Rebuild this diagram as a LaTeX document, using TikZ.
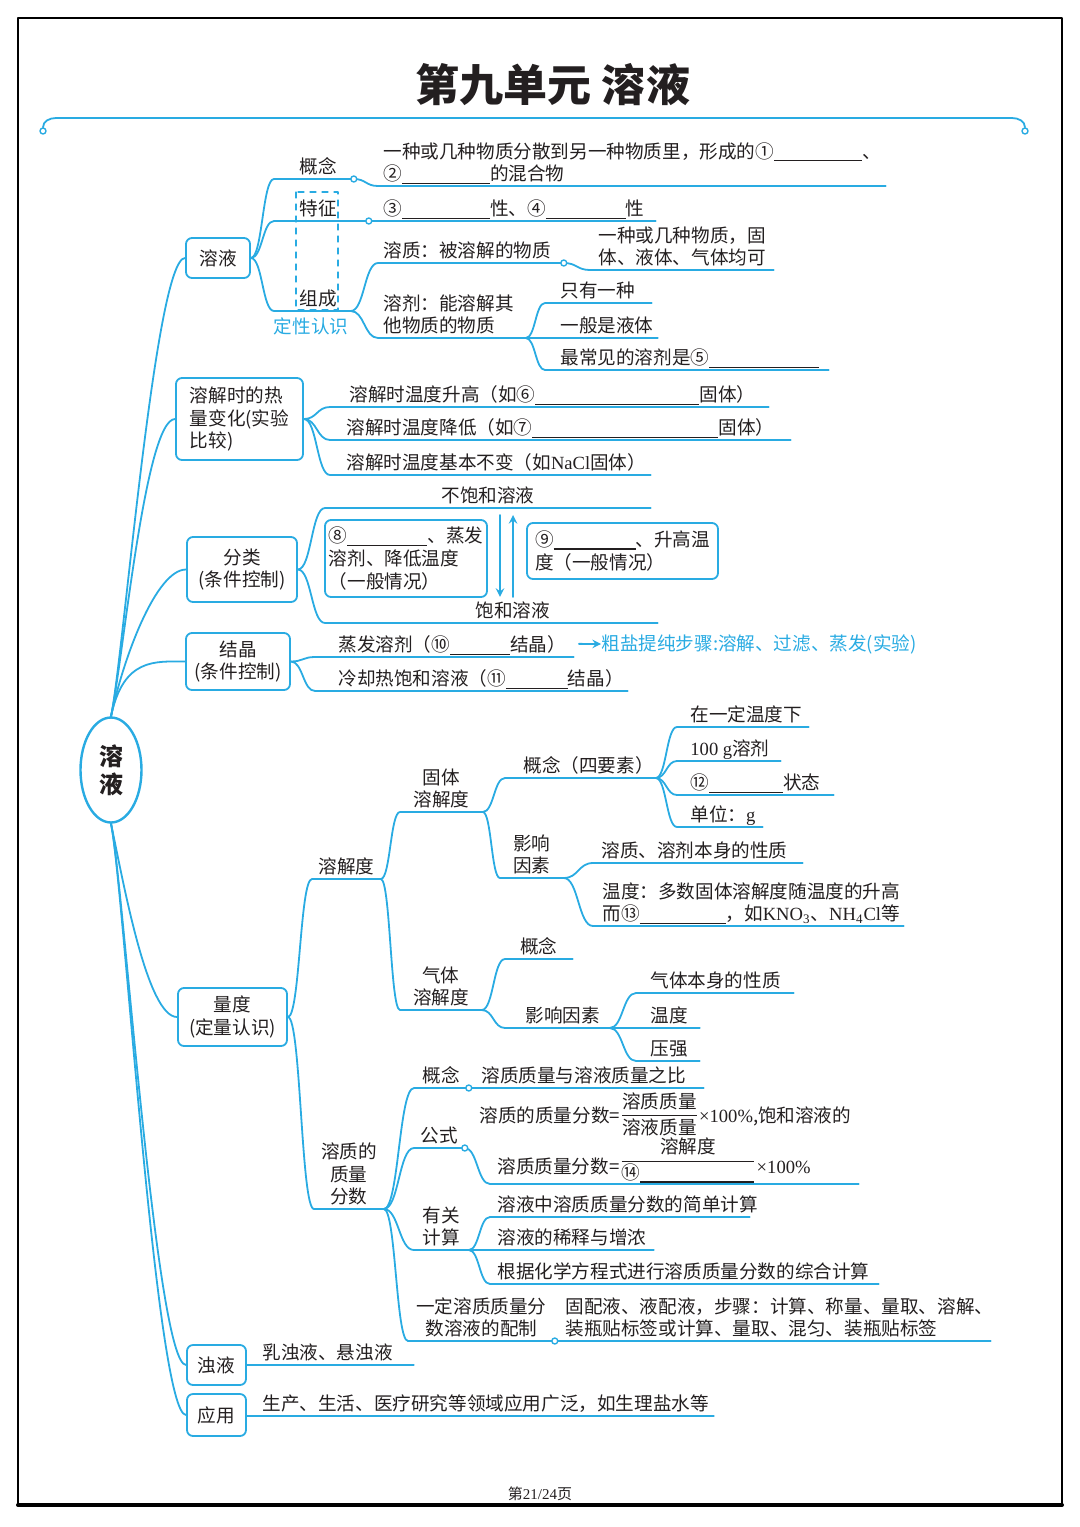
\documentclass[tikz,border=0pt]{standalone}
\usepackage{fontspec}
\setmainfont{Noto Sans CJK SC}
\newfontfamily\latf{Liberation Serif}
\newcommand\lat[1]{{\latf #1}}
\usetikzlibrary{calc,shapes.geometric}
\definecolor{lc}{HTML}{29ABE2}
\definecolor{ink}{HTML}{231F20}
\newcommand\blank[1]{\rule[-1.5pt]{#1}{0.6pt}}

\begin{document}
\begin{tikzpicture}[x=0.5pt, y=-0.5pt, line join=round, line cap=round, >=stealth,
	font=\fontsize{9.3pt}{11.3pt}\selectfont, text=ink,
	br/.style={draw=lc, line width=0.9pt},
	arr/.style={draw=lc, line width=0.9pt, ->},
	hs/.style={to path={let \p1=(\tikztostart), \p2=(\tikztotarget) in
		.. controls ({(\x1+\x2)/2},\y1) and ({(\x1+\x2)/2},\y2) .. (\tikztotarget)}},
	up/.style={out=78, in=180, out distance=30pt, in distance=15pt},
	dn/.style={out=-78, in=180, out distance=30pt, in distance=15pt},
	cbox/.style={draw=lc, line width=0.9pt, rounded corners=3pt, fill=white, align=center, inner sep=1pt},
	tx/.style={anchor=south west, inner xsep=0pt, inner ysep=2.4pt, text depth=0pt},
	leaf/.style={tx, execute at begin node={\begin{minipage}[b]{#1}\raggedright}, execute at end node={\end{minipage}}},
	mid/.style={tx, execute at begin node={\begin{minipage}[b]{#1}\centering}, execute at end node={\end{minipage}}},
	knob/.style={circle, draw=lc, fill=white, line width=0.7pt, inner sep=0pt, minimum size=3pt}]
	\useasboundingbox (0,0) rectangle (1080,1527);
	\draw[line width=1.2pt] (18,18) rectangle (1062,1505);
	\draw[line width=2pt] (18,1505) -- (1062,1505);
	\node[font=\fontsize{22pt}{26pt}\selectfont\bfseries] (title) at (553,85) {第九单元 溶液};
	\node[knob] (lk) at (43,131) {};
	\node[knob] (rk) at (1025,131) {};
	\draw[br] (lk) to[out=90,in=180] (56,118) -- (1012,118) to[out=0,in=90] (rk);
	\node[font=\fontsize{7.5pt}{9pt}\selectfont] (pg) at (540,1494) {第\lat{21/24}页};
	
	% root and main boxes
	\node[draw=lc, line width=1.2pt, ellipse, minimum width=30.5pt, minimum height=52.5pt, fill=white,
		font=\fontsize{12pt}{14pt}\selectfont\bfseries, align=center] (root) at (111,770) {溶\\液};
	\node[cbox, minimum width=32pt, minimum height=20pt] (b1) at (218,258) {溶液};
	\node[cbox, minimum width=63.5pt, minimum height=41pt, align=left] (b2) at (239.5,419) {溶解时的热\\量变化(实验\\比较)};
	\node[cbox, minimum width=55pt, minimum height=32.5pt] (b3) at (242,569.5) {分类\\(条件控制)};
	\node[cbox, minimum width=52pt, minimum height=28.5pt] (b4) at (238,661.5) {结晶\\(条件控制)};
	\node[cbox, minimum width=54.5pt, minimum height=29pt] (b5) at (232.5,1017) {量度\\(定量认识)};
	\node[cbox, minimum width=29.5pt, minimum height=20pt] (b6) at (216.5,1365) {浊液};
	\node[cbox, minimum width=29.5pt, minimum height=21pt] (b7) at (216.5,1415) {应用};
	\foreach \b in {b1,b2,b3,b4} \draw[br] (root.north) to[up] (\b.west);
	\foreach \b in {b5,b6,b7} \draw[br] (root.south) to[dn] (\b.west);
	
	% 溶液
	\node[leaf=39.5pt] (gn) at (274,179) {\hspace*{12.5pt}概念};
	\node[leaf=253.5pt] (gdef) at (378,186) {\hspace*{2.5pt}一种或几种物质分散到另一种物质里，形成的①\blank{44pt}、\\\hspace*{2.5pt}②\blank{44pt}的混合物};
	\node[leaf=47pt] (tz) at (274,221) {\hspace*{12.5pt}特征};
	\node[leaf=143.5pt] (tzdef) at (368,221) {\hspace*{7.5pt}③\blank{44pt}性、④\blank{40pt}性};
	\node[leaf=38pt] (zc) at (274,311) {\hspace*{12.5pt}组成};
	\node[leaf=92.5pt] (zz) at (378,263) {\hspace*{2.5pt}溶质：被溶解的物质};
	\node[leaf=91.5pt] (zzdef) at (590,270) {\hspace*{4pt}一种或几种物质，固\\\hspace*{4pt}体、液体、气体均可};
	\node[leaf=73.5pt] (zj) at (378,338) {\hspace*{2.5pt}溶剂：能溶解其\\\hspace*{2.5pt}他物质的物质};
	\node[leaf=53pt] (j1) at (545,303) {\hspace*{7.5pt}只有一种};
	\node[leaf=56pt] (j2) at (545,338) {\hspace*{7.5pt}一般是液体};
	\node[leaf=141.5pt] (j3) at (545,370) {\hspace*{7.5pt}最常见的溶剂是⑤\blank{55pt}};
	\node[text=lc] (dxrs) at (311,326) {定性认识};
	\draw[lc, dashed, line width=0.6pt] (296,192) rectangle (338,310);
	\draw[br] (b1.east) to[hs] (gn.south west) -- (gn.south east) to[hs] (gdef.south west) -- (gdef.south east);
	\draw[br] (b1.east) to[hs] (tz.south west) -- (tzdef.south east);
	\draw[br] (b1.east) to[hs] (zc.south west) -- (zc.south east) to[hs] (zz.south west) -- (zz.south east)
		to[hs] (zzdef.south west) -- (zzdef.south east);
	\draw[br] (zc.south east) to[hs] (zj.south west) -- (zj.south east) to[hs] (j1.south west) -- (j1.south east);
	\draw[br] (zj.south east) -- (j2.south east);
	\draw[br] (zj.south east) to[hs] (j3.south west) -- (j3.south east);
	\node[knob] (kgn) at (gn.south east) {};
	\node[knob] (ktz) at (tz.south east) {};
	\node[knob] (kzz) at (zz.south east) {};
	
	% 热量变化
	\node[leaf=219pt] (h1) at (330,407) {\hspace*{9.5pt}溶解时温度升高（如⑥\blank{82pt}固体）};
	\node[leaf=230pt] (h2) at (330,440) {\hspace*{8pt}溶解时温度降低（如⑦\blank{93pt}固体）};
	\node[leaf=160pt] (h3) at (330,475) {\hspace*{8pt}溶解时温度基本不变（如\lat{NaCl}固体）};
	\foreach \h in {h1,h2,h3} \draw[br] (b2.east) to[hs] (\h.south west) -- (\h.south east);
	
	% 分类
	\node[mid=162.5pt] (bb) at (325,508) {不饱和溶液};
	\node[leaf=166pt] (bh) at (325,623) {\hspace*{75pt}饱和溶液};
	\node[cbox, minimum width=81pt, minimum height=38.5pt, align=left] (c8) at (406,558.5) {⑧\blank{40pt}、蒸发\\溶剂、降低温度\\（一般情况）};
	\node[cbox, minimum width=95.5pt, minimum height=28pt, align=left] (c9) at (622.5,551) {⑨\blank{41pt}、升高温\\度（一般情况）};
	\coordinate (ax) at (500,0);
	\coordinate (ay) at (513,0);
	\draw[arr, shorten <=3.5pt] (bb.south -| ax) -- (bh.north -| ax);
	\draw[arr, shorten >=3.5pt] (bh.north -| ay) -- (bb.south -| ay);
	\draw[br] (b3.east) to[hs] (bb.south west) -- (bb.south east);
	\draw[br] (b3.east) to[hs] (bh.south west) -- (bh.south east);
	
	% 结晶
	\node[leaf=129pt] (k1) at (315,657) {\hspace*{11.5pt}蒸发溶剂（⑩\blank{30pt}结晶）};
	\node[leaf=156pt] (k2) at (315,691) {\hspace*{11.5pt}冷却热饱和溶液（⑪\blank{31pt}结晶）};
	\node[anchor=west, inner xsep=0pt, text=lc] (salt) at (601,644) {粗盐提纯步骤:溶解、过滤、蒸发(实验)};
	\draw[br] (b4.east) to[hs] (k1.south west) -- (k1.south east);
	\draw[br] (b4.east) to[hs] (k2.south west) -- (k2.south east);
	\draw[arr, shorten <=2.5pt] (k1.east) -- (salt.west);
	
	% 量度: 溶解度
	\node[mid=34pt] (sd) at (312,879) {溶解度};
	\node[mid=41pt] (gt) at (400,812) {固体\\溶解度};
	\node[leaf=75pt] (gg) at (505,778) {\hspace*{9pt}概念（四要素）};
	\node[leaf=65.5pt] (s1) at (677,727) {\hspace*{6.5pt}在一定温度下};
	\node[leaf=51.5pt] (s2) at (677,761) {\hspace*{6.5pt}\lat{100 g}溶剂};
	\node[leaf=78pt] (s3) at (677,795) {\hspace*{6.5pt}⑫\blank{37pt}状态};
	\node[leaf=42.5pt] (s4) at (677,827) {\hspace*{6.5pt}单位：\lat{g}};
	\node[mid=31.5pt] (gy) at (500,878) {影响\\因素};
	\node[leaf=104.5pt] (y1) at (593,863) {\hspace*{4pt}溶质、溶剂本身的性质};
	\node[leaf=155pt] (y2) at (593,926) {\hspace*{4.5pt}温度：多数固体溶解度随温度的升高\\\hspace*{4.5pt}而⑬\blank{43pt}，如\lat{KNO\textsubscript{3}}、\lat{NH\textsubscript{4}Cl}等};
	\node[mid=40.5pt] (qt) at (400,1010) {气体\\溶解度};
	\node[mid=33.5pt] (qg) at (505,959) {概念};
	\node[leaf=52pt] (qy) at (505,1028) {\hspace*{10pt}影响因素};
	\node[leaf=78.5pt] (q1) at (636,993) {\hspace*{7pt}气体本身的性质};
	\node[leaf=31.5pt] (q2) at (636,1028) {\hspace*{7pt}温度};
	\node[leaf=31.5pt] (q3) at (636,1061) {\hspace*{7pt}压强};
	\draw[br] (b5.east) to[hs] (sd.south west) -- (sd.south east);
	\draw[br] (sd.south east) to[hs] (gt.south west) -- (gt.south east) to[hs] (gg.south west) -- (gg.south east);
	\foreach \s in {s1,s2,s3,s4} \draw[br] (gg.south east) to[hs] (\s.south west) -- (\s.south east);
	\draw[br] (gt.south east) to[hs] (gy.south west) -- (gy.south east);
	\foreach \s in {y1,y2} \draw[br] (gy.south east) to[hs] (\s.south west) -- (\s.south east);
	\draw[br] (sd.south east) to[hs] (qt.south west) -- (qt.south east) to[hs] (qg.south west) -- (qg.south east);
	\draw[br] (qt.south east) to[hs] (qy.south west) -- (qy.south east);
	\foreach \s in {q1,q2,q3} \draw[br] (qy.south east) to[hs] (\s.south west) -- (\s.south east);
	
	% 量度: 溶质的质量分数
	\node[mid=34.5pt] (zf) at (314,1209) {溶质的\\质量\\分数};
	\node[mid=27pt] (zg) at (414,1088) {概念};
	\node[leaf=117.5pt] (zgdef) at (468,1088) {\hspace*{6.5pt}溶质质量与溶液质量之比};
	\node[mid=25pt] (zs) at (414,1148) {公式};
	\node[anchor=base west, inner sep=0pt] (fa) at (479,1122) {溶质的质量分数=\raisebox{1pt}{$\displaystyle\frac{\mbox{溶质质量}}{\mbox{溶液质量}}$}\lat{×100\%},饱和溶液的};
	\node[leaf=184pt, inner ysep=5pt] (fb) at (490,1184) {\hspace*{3.5pt}溶质质量分数=\raisebox{4pt}{$\displaystyle\frac{\mbox{溶解度}}{\mbox{⑭\blank{57pt}}}$}\lat{×100\%}};
	\node[mid=27pt] (zy) at (414,1250) {有关\\计算};
	\node[leaf=129.5pt] (c1) at (490,1217) {\hspace*{3.5pt}溶液中溶质质量分数的简单计算};
	\node[leaf=81.5pt] (c2) at (490,1250) {\hspace*{3.5pt}溶液的稀释与增浓};
	\node[leaf=194pt] (c3) at (490,1284) {\hspace*{3.5pt}根据化学方程式进行溶质质量分数的综合计算};
	\node[mid=73pt] (zp) at (408,1341) {一定溶质质量分\\数溶液的配制};
	\node[leaf=218pt] (zpdef) at (554,1341) {\hspace*{5.5pt}固配液、液配液，步骤：计算、称量、量取、溶解、\\\hspace*{5.5pt}装瓶贴标签或计算、量取、混匀、装瓶贴标签};
	\draw[br] (b5.east) to[hs] (zf.south west) -- (zf.south east);
	\draw[br] (zf.south east) to[hs] (zg.south west) -- (zgdef.south east);
	\draw[br] (zf.south east) to[hs] (zs.south west) -- (zs.south east) to[hs] (fb.south west) -- (fb.south east);
	\draw[br] (zf.south east) to[hs] (zy.south west) -- (zy.south east);
	\foreach \c in {c1,c2,c3} \draw[br] (zy.south east) to[hs] (\c.south west) -- (\c.south east);
	\draw[br] (zf.south east) to[hs] (zp.south west) -- (zpdef.south east);
	\node[knob] (kzg) at (zg.south east) {};
	\node[knob] (kzs) at (zs.south east) {};
	\node[knob] (kzp) at (zp.south east) {};
	
	% 浊液, 应用
	\node[leaf=83.5pt] (zhuo) at (246,1365) {\hspace*{8pt}乳浊液、悬浊液};
	\node[leaf=233.5pt] (ying) at (246,1416) {\hspace*{8pt}生产、生活、医疗研究等领域应用广泛，如生理盐水等};
	\draw[br] (b6.east) -- (zhuo.south east);
	\draw[br] (b7.east |- ying.south west) -- (ying.south east);
\end{tikzpicture}
\end{document}
